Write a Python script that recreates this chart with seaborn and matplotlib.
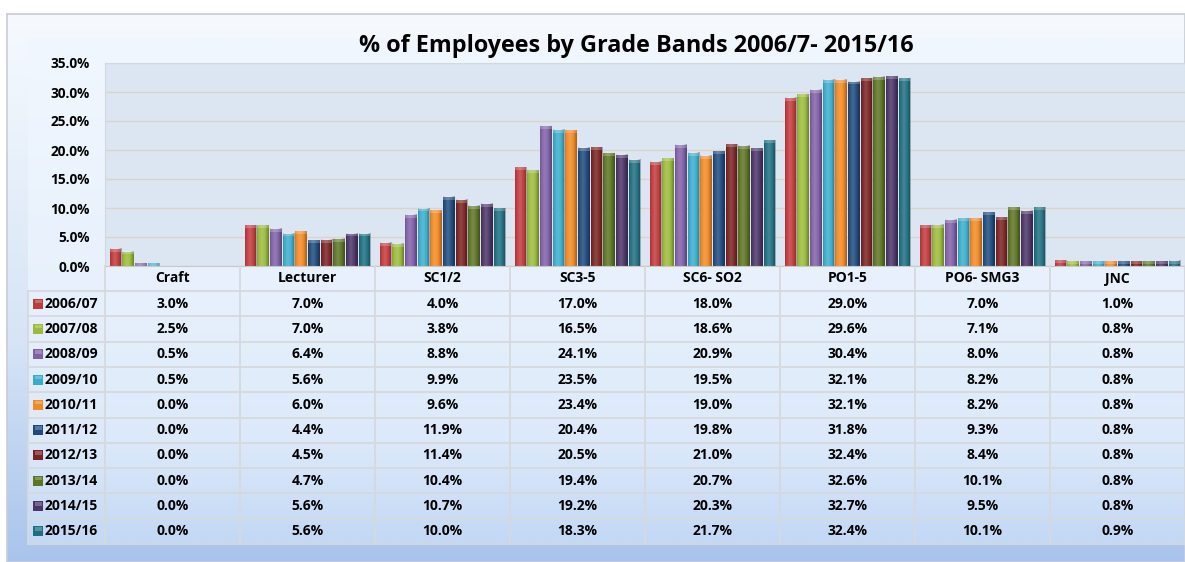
import numpy as np
import pandas as pd
import matplotlib
matplotlib.use("Agg")
import matplotlib.pyplot as plt
import seaborn as sns
from matplotlib.colors import LinearSegmentedColormap
from matplotlib.patches import Rectangle

# ---- data -------------------------------------------------------------
grades = ["Craft", "Lecturer", "SC1/2", "SC3-5", "SC6- SO2", "PO1-5", "PO6- SMG3", "JNC"]
years = ["2006/07", "2007/08", "2008/09", "2009/10", "2010/11",
         "2011/12", "2012/13", "2013/14", "2014/15", "2015/16"]

pct_2006_07 = [3.0, 7.0, 4.0, 17.0, 18.0, 29.0, 7.0, 1.0]
pct_2007_08 = [2.5, 7.0, 3.8, 16.5, 18.6, 29.6, 7.1, 0.8]
pct_2008_09 = [0.5, 6.4, 8.8, 24.1, 20.9, 30.4, 8.0, 0.8]
pct_2009_10 = [0.5, 5.6, 9.9, 23.5, 19.5, 32.1, 8.2, 0.8]
pct_2010_11 = [0.0, 6.0, 9.6, 23.4, 19.0, 32.1, 8.2, 0.8]
pct_2011_12 = [0.0, 4.4, 11.9, 20.4, 19.8, 31.8, 9.3, 0.8]
pct_2012_13 = [0.0, 4.5, 11.4, 20.5, 21.0, 32.4, 8.4, 0.8]
pct_2013_14 = [0.0, 4.7, 10.4, 19.4, 20.7, 32.6, 10.1, 0.8]
pct_2014_15 = [0.0, 5.6, 10.7, 19.2, 20.3, 32.7, 9.5, 0.8]
pct_2015_16 = [0.0, 5.6, 10.0, 18.3, 21.7, 32.4, 10.1, 0.9]

series = [pct_2006_07, pct_2007_08, pct_2008_09, pct_2009_10, pct_2010_11,
          pct_2011_12, pct_2012_13, pct_2013_14, pct_2014_15, pct_2015_16]

colors = ["#C0393B", "#9BBB3B", "#8060A8", "#3AACCB", "#F28A24",
          "#1F4A7D", "#7A2222", "#5C7424", "#4B3466", "#1E6E80"]

title = "% of Employees by Grade Bands 2006/7- 2015/16"

df = pd.DataFrame(
    [(g, y, v) for y, vals in zip(years, series) for g, v in zip(grades, vals)],
    columns=["grade", "year", "pct"],
)

# ---- figure -----------------------------------------------------------
plt.rcParams["font.family"] = ["Open Sans", "DejaVu Sans"]
plt.rcParams["font.weight"] = "bold"

W, H = 1185, 562
fig = plt.figure(figsize=(W / 100, H / 100), dpi=100)

bg = fig.add_axes([0, 0, 1, 1])
bg.set_xlim(0, W)
bg.set_ylim(H, 0)
bg.axis("off")


def vgrad(ax, x0, x1, y0, y1, stops, z):
    cmap = LinearSegmentedColormap.from_list("g", stops)
    grad = np.linspace(0, 1, 256).reshape(-1, 1)
    ax.imshow(grad, extent=[x0, x1, y1, y0], cmap=cmap, aspect="auto",
              origin="upper", zorder=z, interpolation="bilinear")


# chart frame with bevelled border
vgrad(bg, 7, W, 14, H, [(0, "#F6FAFE"), (0.6, "#D6E4F6"), (1, "#A9C4EC")], 1)
bg.add_patch(Rectangle((7, 14), W - 7, H - 14, fill=False, ec="#C8CDD4", lw=1.2, zorder=5))
vgrad(bg, 28, W, 38, 543,
      [(0, "#F1F7FE"), (0.55, "#E6F0FC"), (0.8, "#DCE9FA"), (1, "#C3D8F5")], 2)
bg.set_xlim(0, W)
bg.set_ylim(H, 0)

bg.text(636, 46, title, ha="center", va="center", fontsize=16.8,
        fontweight="bold", color="#000000", zorder=6)

# ---- bars -------------------------------------------------------------
ax = fig.add_axes([105 / W, (H - 266) / H, (W - 105) / W, (266 - 63) / H])
ax.set_facecolor("#DCE6F2")
sns.barplot(data=df, x="grade", y="pct", hue="year", palette=colors,
            order=grades, hue_order=years, width=0.94, gap=0.08,
            saturation=1, legend=False, ax=ax, edgecolor="none", errorbar=None)

# soft rounded shading on each bar
tx = np.linspace(0, 1, 64)
shade = np.zeros((1, 64, 4))
hi = np.exp(-((tx - 0.42) / 0.22) ** 2)
lo = np.clip((np.abs(tx - 0.42) - 0.25) / 0.33, 0, 1)
shade[0, :, :3] = (hi / (hi + lo + 1e-9))[:, None]
shade[0, :, 3] = 0.16 * hi + 0.30 * lo
for p in list(ax.patches):
    h = p.get_height()
    if h <= 0:
        continue
    x, w = p.get_x(), p.get_width()
    ax.imshow(shade, extent=[x, x + w, 0, h], aspect="auto", zorder=3,
              interpolation="bilinear")
    ax.add_patch(Rectangle((x, h - 0.5), w, 0.5, fc="white", alpha=0.22,
                           ec="none", zorder=4))

ax.set_xlim(-0.5, len(grades) - 0.5)
ax.set_ylim(0, 35)
ticks = np.arange(0, 35.1, 5)
ax.set_yticks(ticks)
ax.set_yticklabels([f"{t:.1f}%" for t in ticks], fontsize=9.8, fontweight="bold")
ax.set_xticks([])
ax.set_xlabel("")
ax.set_ylabel("")
ax.tick_params(axis="y", length=0, pad=11)
ax.grid(axis="y", color="#DCD3CC", lw=1.0)
ax.set_axisbelow(True)
for s in ["top", "right", "left"]:
    ax.spines[s].set_color("#D3D8DF")
    ax.spines[s].set_linewidth(0.8)
ax.spines["bottom"].set_color("#C8C8C8")

# ---- data table -------------------------------------------------------
tab = fig.add_axes([0, 0, 1, 1])
tab.set_xlim(0, W)
tab.set_ylim(H, 0)
tab.axis("off")
tab.patch.set_alpha(0)

col0, colw = 105, (W - 105) / len(grades)
head_top, row_top, row_h = 266, 291, 25.3
bottom = row_top + row_h * len(years)
line_c = "#D6D9DD"

for i in range(len(grades) + 1):
    tab.plot([col0 + i * colw] * 2, [head_top, bottom], color=line_c, lw=1.3)
tab.plot([28, 28], [row_top, bottom], color=line_c, lw=1.3)
for k in range(len(years) + 1):
    yk = row_top + k * row_h
    tab.plot([28, W], [yk, yk], color=line_c, lw=1.3)

fs = 10
for i, g in enumerate(grades):
    tab.text(col0 + (i + 0.5) * colw, (head_top + row_top) / 2, g,
             ha="center", va="center", fontsize=fs, fontweight="bold")

for r, (yr, vals, c) in enumerate(zip(years, series, colors)):
    yc = row_top + (r + 0.5) * row_h
    tab.add_patch(Rectangle((33, yc - 5), 10, 10, fc=c, ec="none"))
    tab.add_patch(Rectangle((34.5, yc - 4), 7, 3.5, fc="white", alpha=0.25, ec="none"))
    tab.text(45, yc, yr, ha="left", va="center", fontsize=fs, fontweight="bold")
    for i, v in enumerate(vals):
        tab.text(col0 + (i + 0.5) * colw, yc, f"{v:.1f}%", ha="center",
                 va="center", fontsize=fs, fontweight="bold")

fig.savefig("out.png", dpi=100)
